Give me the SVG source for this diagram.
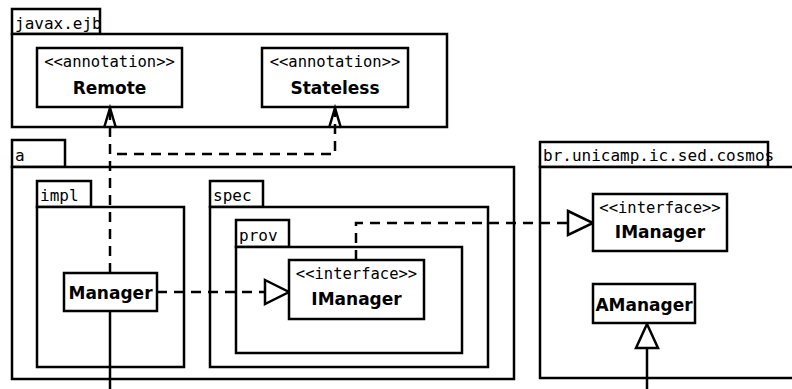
<svg xmlns="http://www.w3.org/2000/svg" width="792" height="389" viewBox="0 0 792 389">
  <style>
    .box { fill: #fff; stroke: #000; stroke-width: 2.5; }
    .pkg { fill: #fff; stroke: #000; stroke-width: 2.5; }
    .mono { font-family: "DejaVu Sans Mono", "Liberation Mono", monospace; font-size: 16px; fill: #000; }
    .name { font-family: "DejaVu Sans", "Liberation Sans", sans-serif; font-weight: bold; font-size: 17px; fill: #000; text-anchor: middle; }
    .stereo { font-family: "DejaVu Sans Mono", "Liberation Mono", monospace; font-size: 15.5px; fill: #000; text-anchor: middle; }
    .dash { fill: none; stroke: #000; stroke-width: 2.5; stroke-dasharray: 10 7; }
    .solid { fill: none; stroke: #000; stroke-width: 2.5; }
    .head { fill: #fff; stroke: #000; stroke-width: 2.5; }
    .open { fill: none; stroke: #000; stroke-width: 2.5; }
  </style>

  <rect width="792" height="389" fill="#fff"/>

  <!-- package javax.ejb -->
  <g id="pkg-javax-ejb">
    <rect class="pkg" x="12" y="9" width="88" height="25"/>
    <rect class="pkg" x="12" y="34" width="435" height="93"/>
    <text class="mono" x="15" y="29">javax.ejb</text>
  </g>
  <g id="remote">
    <rect class="box" x="37" y="48" width="145" height="59"/>
    <text class="stereo" x="109.5" y="67">&lt;&lt;annotation&gt;&gt;</text>
    <text class="name" x="109.5" y="94">Remote</text>
  </g>
  <g id="stateless">
    <rect class="box" x="262" y="48" width="146" height="59"/>
    <text class="stereo" x="335" y="67">&lt;&lt;annotation&gt;&gt;</text>
    <text class="name" x="335" y="94">Stateless</text>
  </g>

  <!-- package a -->
  <g id="pkg-a">
    <rect class="pkg" x="12" y="140" width="53" height="27"/>
    <rect class="pkg" x="12" y="167" width="502" height="212"/>
    <text class="mono" x="15" y="161">a</text>
  </g>
  <g id="pkg-impl">
    <rect class="pkg" x="37" y="181" width="54" height="26"/>
    <rect class="pkg" x="37" y="207" width="147" height="160"/>
    <text class="mono" x="40" y="201">impl</text>
  </g>
  <g id="pkg-spec">
    <rect class="pkg" x="210" y="181" width="53" height="26"/>
    <rect class="pkg" x="210" y="207" width="278" height="160"/>
    <text class="mono" x="213" y="201">spec</text>
  </g>
  <g id="pkg-prov">
    <rect class="pkg" x="236" y="220" width="53" height="27"/>
    <rect class="pkg" x="236" y="247" width="226" height="106"/>
    <text class="mono" x="239" y="241">prov</text>
  </g>

  <!-- package br.unicamp.ic.sed.cosmos -->
  <g id="pkg-cosmos">
    <rect class="pkg" x="540" y="142" width="228" height="25"/>
    <rect class="pkg" x="540" y="167" width="260" height="211"/>
    <text class="mono" x="543" y="161">br.unicamp.ic.sed.cosmos</text>
  </g>

  <!-- connectors -->
  <g id="connectors">
    <!-- Manager uses Remote / Stateless -->
    <path class="dash" d="M110 273 V109"/>
    <path class="dash" d="M117 154 H335 V109"/>
    <path class="open" d="M104 128 L110 108 L116 128"/>
    <path class="open" d="M329 128 L335 108 L341 128"/>
    <!-- Manager realizes prov.IManager -->
    <path class="dash" d="M157 292 H265"/>
    <polygon class="head" points="265,280 289,292 265,304"/>
    <!-- prov.IManager to cosmos.IManager -->
    <path class="dash" d="M356 260 V223 H568"/>
    <polygon class="head" points="568,211 593,223 568,235"/>
    <!-- Manager solid line downward -->
    <path class="solid" d="M110 311 V389"/>
    <!-- generalization to AManager -->
    <path class="solid" d="M647 348 V389"/>
    <polygon class="head" points="636,348 647,324 658,348"/>
  </g>

  <!-- classes -->
  <g id="manager">
    <rect class="box" x="64" y="273" width="93" height="38"/>
    <text class="name" x="110.5" y="299">Manager</text>
  </g>
  <g id="prov-imanager">
    <rect class="box" x="289" y="260" width="135" height="59"/>
    <text class="stereo" x="356.5" y="279">&lt;&lt;interface&gt;&gt;</text>
    <text class="name" x="356.5" y="305">IManager</text>
  </g>
  <g id="cosmos-imanager">
    <rect class="box" x="593" y="194" width="134" height="57"/>
    <text class="stereo" x="660" y="213">&lt;&lt;interface&gt;&gt;</text>
    <text class="name" x="660" y="238">IManager</text>
  </g>
  <g id="amanager">
    <rect class="box" x="593" y="284" width="102" height="39"/>
    <text class="name" x="644" y="311">AManager</text>
  </g>
</svg>
